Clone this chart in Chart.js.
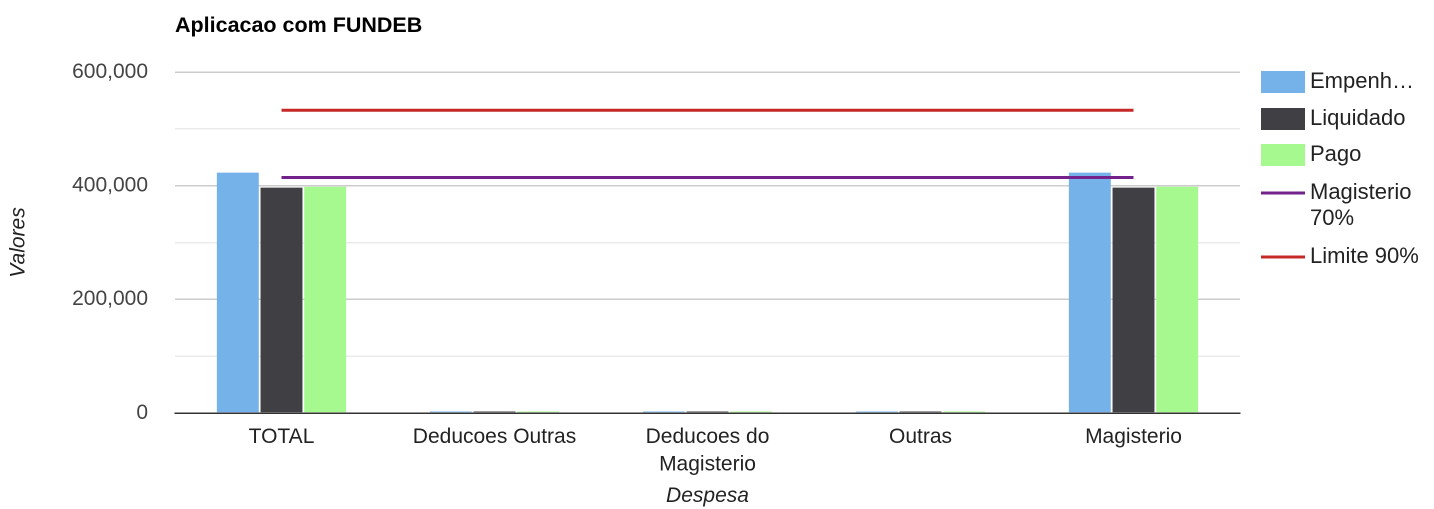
<!DOCTYPE html>
<html>
<head>
<meta charset="utf-8">
<script src="https://cdn.jsdelivr.net/npm/chart.js@4/dist/chart.umd.min.js"></script>
<style>
  html, body { margin: 0; padding: 0; background: #fff; }
  #c { display: block; }
</style>
</head>
<body>
<canvas id="c" width="1434" height="509"></canvas>
<script>
// ---- data ----
const categories = ['TOTAL', 'Deducoes Outras', ['Deducoes do', 'Magisterio'], 'Outras', 'Magisterio'];
const empenhado   = [422900, 0, 0, 0, 422900];
const liquidado   = [396500, 0, 0, 0, 396500];
const pago        = [398200, 0, 0, 0, 398200];
const magisterio70 = [414400, 414400, 414400, 414400, 414400];
const limite90     = [532800, 532800, 532800, 532800, 532800];
const yTicksMax = 600000;
const yStep = 100000;
const seriesNames = ['Empenh\u2026', 'Liquidado', 'Pago', ['Magisterio', '70%'], 'Limite 90%'];
const titleText = 'Aplicacao com FUNDEB';
const yTitle = 'Valores';
const xTitle = 'Despesa';

const colors = ['#76b2ea', '#3f3f44', '#a6f98f', '#72228a', '#c62828'];
const FONT = "'Liberation Sans', Arial, sans-serif";

const titlePlugin = {
  id: 'titleAndLegend',
  afterDraw(chart) {
    const ctx = chart.ctx;
    ctx.save();
    ctx.fillStyle = '#000';
    ctx.font = 'bold 21.5px ' + FONT;
    ctx.textBaseline = 'alphabetic';
    ctx.textAlign = 'left';
    ctx.fillText(titleText, 175, 32);

    // legend
    const bx = 1261, bw = 44, tx = 1310;
    ctx.font = '22px ' + FONT;
    ctx.fillStyle = '#222';
    ctx.textBaseline = 'middle';
    const rowsY = [82, 119, 155];
    for (let i = 0; i < 3; i++) {
      ctx.fillStyle = colors[i];
      ctx.fillRect(bx, rowsY[i] - 11, bw, 22);
      ctx.fillStyle = '#222';
      ctx.fillText(seriesNames[i], tx, rowsY[i]);
    }
    const lineRows = [[193, 219], [257]];
    for (let j = 0; j < 2; j++) {
      const idx = 3 + j;
      const y0 = lineRows[j][0];
      ctx.strokeStyle = colors[idx];
      ctx.lineWidth = 3;
      ctx.beginPath();
      ctx.moveTo(bx, y0);
      ctx.lineTo(bx + bw, y0);
      ctx.stroke();
      ctx.fillStyle = '#222';
      const name = seriesNames[idx];
      const lines = Array.isArray(name) ? name : [name];
      lines.forEach((t, k) => ctx.fillText(t, tx, lineRows[j][k]));
    }
    ctx.restore();
  }
};

const barCommon = {
  categoryPercentage: 0.615,
  barPercentage: 0.96,
  minBarLength: 1.5,
  borderWidth: 0,
  order: 1
};

new Chart(document.getElementById('c'), {
  data: {
    labels: categories,
    datasets: [
      Object.assign({ type: 'bar', label: 'Empenhado', data: empenhado, backgroundColor: colors[0] }, barCommon),
      Object.assign({ type: 'bar', label: 'Liquidado', data: liquidado, backgroundColor: colors[1] }, barCommon),
      Object.assign({ type: 'bar', label: 'Pago', data: pago, backgroundColor: colors[2] }, barCommon),
      { type: 'line', label: 'Magisterio 70%', data: magisterio70, borderColor: colors[3], borderWidth: 3, pointRadius: 0, fill: false, order: 0 },
      { type: 'line', label: 'Limite 90%', data: limite90, borderColor: colors[4], borderWidth: 3, pointRadius: 0, fill: false, order: 0 }
    ]
  },
  options: {
    responsive: false,
    animation: false,
    devicePixelRatio: 2,
    layout: { padding: { top: 72, right: 194, left: 0, bottom: 0 } },
    plugins: { legend: { display: false }, tooltip: { enabled: false }, title: { display: false } },
    scales: {
      x: {
        offset: true,
        grid: { display: false, drawTicks: false },
        border: { display: true, color: '#333', width: 1.5 },
        ticks: { color: '#222', font: { family: FONT, size: 21, lineHeight: 1.33 }, padding: 10, maxRotation: 0, autoSkip: false },
        title: { display: true, text: xTitle, color: '#222', font: { family: FONT, size: 21, style: 'italic' }, padding: { top: 0, bottom: 0 } },
        afterFit(scale) { scale.height = 96; }
      },
      y: {
        min: 0, max: yTicksMax,
        grid: {
          drawTicks: false,
          color(ctx) {
            const v = ctx.tick ? ctx.tick.value : 0;
            if (v === 0) return 'rgba(0,0,0,0)';
            return v % 200000 === 0 ? '#cccccc' : '#ebebeb';
          },
          lineWidth: 1.5
        },
        border: { display: false },
        ticks: {
          stepSize: yStep,
          color: '#444',
          font: { family: FONT, size: 21 },
          padding: 27,
          callback(v) { return v % 200000 === 0 ? v.toLocaleString('en-US') : ''; }
        },
        title: { display: true, text: yTitle, color: '#222', font: { family: FONT, size: 21, style: 'italic' }, padding: { top: 6, bottom: 0 } },
        afterFit(scale) { scale.width = 175; }
      }
    }
  },
  plugins: [titlePlugin]
});
</script>
</body>
</html>
